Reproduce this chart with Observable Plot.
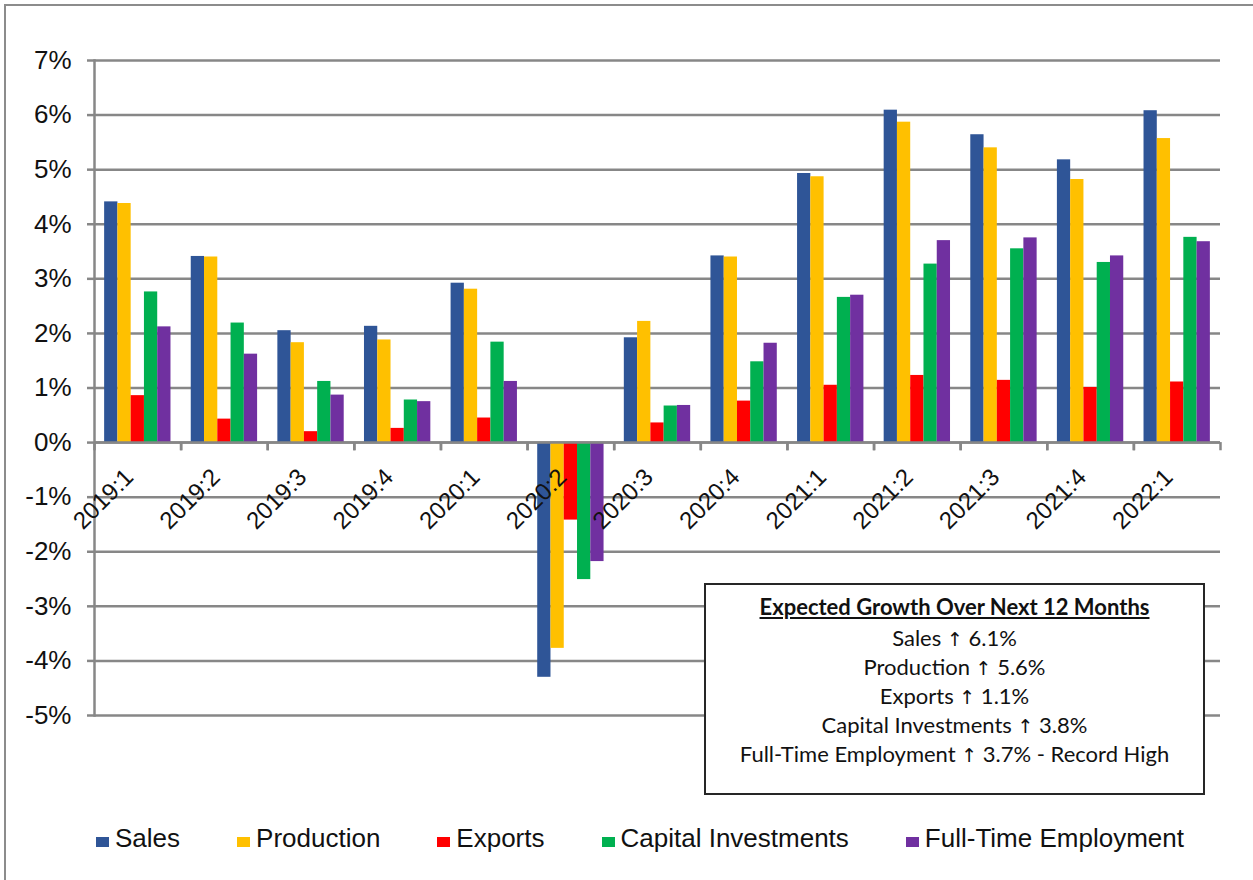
<!DOCTYPE html>
<html>
<head>
<meta charset="utf-8">
<script src="https://cdn.jsdelivr.net/npm/d3@7"></script>
<script src="https://cdn.jsdelivr.net/npm/@observablehq/plot@0.6"></script>
<style>
  body { margin: 0; background: #fff; }
  #wrap { position: relative; width: 1253px; height: 880px; overflow: hidden; background: #fff; font-family: "Liberation Sans", Arial, sans-serif; }
  #chart { position: absolute; left: 0; top: 0; }
  #frame { position: absolute; left: 4px; top: 4px; width: 1400px; height: 1000px; border-left: 2px solid #8c8c8c; border-top: 2px solid #8c8c8c; box-sizing: border-box; pointer-events: none; }
  #note { position: absolute; left: 704px; top: 583px; width: 497px; height: 201px; border: 2px solid #262626; background: #fff;
          text-align: center; font-family: Lato, "Liberation Sans", Arial, sans-serif; font-size: 22px; line-height: 29px; color: #111; padding-top: 7px; box-sizing: content-box; }
  #note .title { font-weight: bold; text-decoration: underline; margin-bottom: 2px; }
  #note .arr { font-family: "DejaVu Sans", sans-serif; font-size: 19px; line-height: 0; }
  #legend { position: absolute; left: 96px; top: 825px; display: flex; gap: 57px; font-size: 26px; line-height: 26px; color: #111; white-space: nowrap; }
  #legend .sw { display: inline-block; width: 13px; height: 10px; margin-right: 6px; vertical-align: baseline; }
</style>
</head>
<body>
<div id="wrap">
  <div id="chart"></div>
  <div id="frame"></div>
  <div id="note"></div>
  <div id="legend"></div>
</div>
<script>
// ---- data ----
const quarters = ["2019:1","2019:2","2019:3","2019:4","2020:1","2020:2","2020:3","2020:4","2021:1","2021:2","2021:3","2021:4","2022:1"];
const seriesNames = ["Sales","Production","Exports","Capital Investments","Full-Time Employment"];
const seriesColors = ["#2F5597","#FFC000","#FF0000","#00B050","#7030A0"];
const sales      = [4.41, 3.41, 2.05, 2.13, 2.92, -4.30, 1.92, 3.42, 4.93, 6.09, 5.64, 5.18, 6.08];
const production = [4.38, 3.40, 1.83, 1.88, 2.81, -3.77, 2.22, 3.40, 4.87, 5.87, 5.40, 4.82, 5.57];
const exportsV   = [0.86, 0.43, 0.20, 0.26, 0.45, -1.42, 0.36, 0.76, 1.05, 1.23, 1.14, 1.01, 1.11];
const capInv     = [2.76, 2.19, 1.12, 0.78, 1.84, -2.51, 0.67, 1.48, 2.66, 3.27, 3.55, 3.30, 3.76];
const fte        = [2.12, 1.62, 0.87, 0.75, 1.12, -2.18, 0.68, 1.82, 2.70, 3.70, 3.75, 3.42, 3.68];
const yTicks = [-5,-4,-3,-2,-1,0,1,2,3,4,5,6,7];
const noteTitle = "Expected Growth Over Next 12 Months";
const noteLines = [
  ["Sales", "6.1%"],
  ["Production", "5.6%"],
  ["Exports", "1.1%"],
  ["Capital Investments", "3.8%"],
  ["Full-Time Employment", "3.7% - Record High"]
];

const seriesValues = [sales, production, exportsV, capInv, fte];
const rows = [];
quarters.forEach((q, i) => seriesNames.forEach((s, j) => rows.push({quarter: q, series: s, value: seriesValues[j][i]})));

const W = 1253, H = 790, mL = 94, mR = 33;
const step = (W - mL - mR) / quarters.length;   // width of one category band
const gapFrac = 0.117;                          // empty share on each side of a group
const barW = step * (1 - 2 * gapFrac) / seriesNames.length;
const gap = step * gapFrac;
const grid = "#878787";

const barMarks = seriesNames.map((s, j) =>
  Plot.barY(rows.filter(r => r.series === s), {
    x: "quarter", y: "value", fill: "series",
    insetLeft: gap + j * barW, insetRight: gap + (seriesNames.length - 1 - j) * barW
  })
);

const chart = Plot.plot({
  width: W, height: H,
  marginLeft: mL, marginRight: mR, marginTop: 60, marginBottom: 75,
  style: {fontFamily: "'Liberation Sans', Arial, sans-serif", background: "transparent", color: "#111"},
  x: {domain: quarters, padding: 0, round: false, axis: null, label: null},
  y: {domain: [-5, 7], label: null},
  color: {domain: seriesNames, range: seriesColors},
  marks: [
    Plot.gridY(yTicks, {stroke: grid, strokeOpacity: 1, strokeWidth: 2.5}),
    ...barMarks,
    Plot.ruleY([0], {stroke: grid, strokeWidth: 2.5}),
    Plot.frame({anchor: "left", stroke: grid, strokeWidth: 2.5}),
    Plot.ruleX(quarters, {x: d => d, y1: 0, y2: -0.15, dx: -step / 2, stroke: grid, strokeWidth: 2.5}),
    Plot.ruleX(quarters, {x: d => d, y1: 0, y2: -0.15, dx: step / 2, stroke: grid, strokeWidth: 2.5}),
    Plot.axisY(yTicks, {tickFormat: d => `${d}%`, tickSize: 7, tickPadding: 16, fontSize: 26, stroke: grid, strokeWidth: 2.5, fill: "#111", label: null}),
    Plot.text(quarters, {x: d => d, y: () => 0, text: d => d, rotate: -45, textAnchor: "end", lineAnchor: "bottom", dx: -3, dy: 36, fontSize: 24, fill: "#111"})
  ]
});
document.getElementById("chart").appendChild(chart);

const note = document.getElementById("note");
const t = document.createElement("div"); t.className = "title"; t.textContent = noteTitle; note.appendChild(t);
noteLines.forEach(([a, b]) => {
  const d = document.createElement("div");
  d.appendChild(document.createTextNode(a + " "));
  const s = document.createElement("span"); s.className = "arr"; s.textContent = "↑"; d.appendChild(s);
  d.appendChild(document.createTextNode(" " + b));
  note.appendChild(d);
});

const legend = document.getElementById("legend");
seriesNames.forEach((s, i) => {
  const item = document.createElement("span");
  const sw = document.createElement("span"); sw.className = "sw"; sw.style.background = seriesColors[i];
  item.appendChild(sw); item.appendChild(document.createTextNode(s));
  legend.appendChild(item);
});
</script>
</body>
</html>
